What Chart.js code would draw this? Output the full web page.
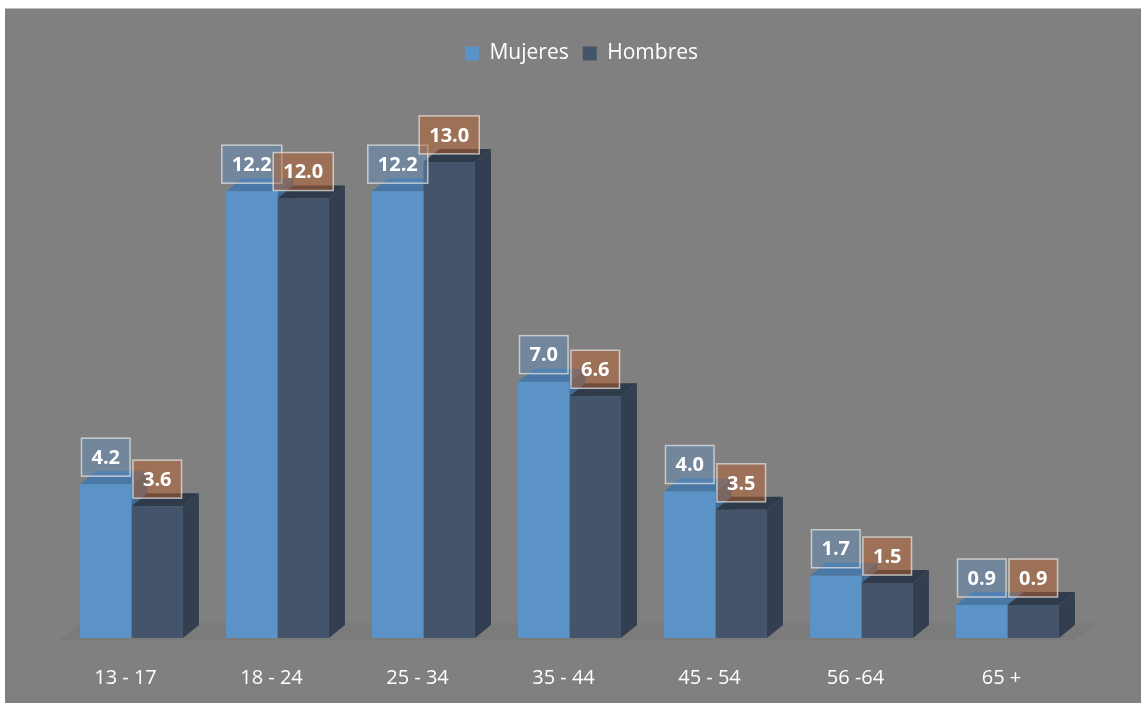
<!DOCTYPE html>
<html>
<head>
<meta charset="utf-8">
<title>Mujeres / Hombres por edad</title>
<script src="https://cdn.jsdelivr.net/npm/chart.js@4.4.1/dist/chart.umd.min.js"></script>
<style>
  html, body { margin: 0; padding: 0; background: #fff; }
  #wrap {
    position: absolute; left: 5px; top: 8px;
    width: 1136px; height: 695px;
    background: #808080;
    border-top: 1px solid #bdbdbd;
    box-sizing: border-box;
    overflow: hidden;
  }
  canvas { display: block; }
</style>
</head>
<body>
<div id="wrap"><canvas id="c" width="1136" height="694"></canvas></div>
<script>
// ── Data ──────────────────────────────────────────────────────────────────────
const categorias = ['13 - 17', '18 - 24', '25 - 34', '35 - 44', '45 - 54', '56 -64', '65 +'];
const mujeres    = [4.2, 12.2, 12.2, 7.0, 4.0, 1.7, 0.9];
const hombres    = [3.6, 12.0, 13.0, 6.6, 3.5, 1.5, 0.9];

// ── Styles ────────────────────────────────────────────────────────────────────
const FONT = "'Open Sans', 'DejaVu Sans', sans-serif";
const DX = 16, DY = 13;   // 3D depth offset
const FACES = [
  { front: '#5b93c6', side: '#3f6a93', top: '#4a78a6', box: 'rgba(95,145,195,0.42)' },
  { front: '#44546a', side: '#333f50', top: '#2f3a4a', box: 'rgba(188,96,44,0.48)' },
];

// ── 3D faces + floor, drawn behind the front faces ────────────────────────────
const depth3d = {
  id: 'depth3d',
  beforeDatasetsDraw(chart) {
    const { ctx, chartArea: a, scales: { y } } = chart;
    const base = y.getPixelForValue(0);
    ctx.save();
    // floor
    ctx.fillStyle = 'rgba(0,0,0,0.035)';
    ctx.beginPath();
    ctx.moveTo(a.left, base + 2);
    ctx.lineTo(a.right - 6, base + 2);
    ctx.lineTo(a.right + DX + 4, base - DY - 2);
    ctx.lineTo(a.left + DX + 6, base - DY - 2);
    ctx.closePath();
    ctx.fill();

    chart.data.datasets.forEach((ds, di) => {
      const meta = chart.getDatasetMeta(di);
      const f = FACES[di];
      meta.data.forEach(bar => {
        const { x, y: top, base: b, width } = bar.getProps(['x', 'y', 'base', 'width'], true);
        const l = x - width / 2, r = x + width / 2;
        // side
        ctx.fillStyle = f.side;
        ctx.beginPath();
        ctx.moveTo(r, b); ctx.lineTo(r + DX, b - DY);
        ctx.lineTo(r + DX, top - DY); ctx.lineTo(r, top);
        ctx.closePath(); ctx.fill();
        // top
        ctx.fillStyle = f.top;
        ctx.beginPath();
        ctx.moveTo(l, top); ctx.lineTo(r, top);
        ctx.lineTo(r + DX, top - DY); ctx.lineTo(l + DX, top - DY);
        ctx.closePath(); ctx.fill();
      });
    });
    ctx.restore();
  }
};

// ── Value labels in translucent boxes ─────────────────────────────────────────
const boxLabels = {
  id: 'boxLabels',
  afterDatasetsDraw(chart) {
    const { ctx } = chart;
    ctx.save();
    ctx.font = `bold 20px ${FONT}`;
    ctx.textAlign = 'center';
    ctx.textBaseline = 'middle';
    chart.data.datasets.forEach((ds, di) => {
      const meta = chart.getDatasetMeta(di);
      meta.data.forEach((bar, i) => {
        const txt = ds.data[i].toFixed(1);
        const w = ctx.measureText(txt).width + 20, h = 38;
        const cx = bar.x, cy = bar.y - 27;
        ctx.fillStyle = FACES[di].box;
        ctx.fillRect(cx - w / 2, cy - h / 2, w, h);
        ctx.strokeStyle = 'rgba(225,225,225,0.75)';
        ctx.lineWidth = 1.5;
        ctx.strokeRect(cx - w / 2, cy - h / 2, w, h);
        ctx.fillStyle = '#ffffff';
        ctx.fillText(txt, cx, cy + 1);
      });
    });
    ctx.restore();
  }
};

// legend sits a little right of the plot centre in the original
const legendNudge = {
  id: 'legendNudge',
  afterLayout(chart) {
    if (chart.legend) { chart.legend.left += 12; chart.legend.right += 12; }
  }
};

new Chart(document.getElementById('c'), {
  type: 'bar',
  data: {
    labels: categorias,
    datasets: [
      { label: 'Mujeres', data: mujeres, backgroundColor: FACES[0].front },
      { label: 'Hombres', data: hombres, backgroundColor: FACES[1].front },
    ]
  },
  options: {
    responsive: false, animation: false,
    categoryPercentage: 0.705, barPercentage: 1,
    layout: { padding: { left: 53.5, right: 60.5, top: 20, bottom: -7 } },
    plugins: {
      legend: {
        position: 'top',
        labels: {
          color: '#ffffff', font: { family: FONT, size: 21 },
          boxWidth: 14, boxHeight: 14, padding: 14,
        }
      },
      tooltip: { enabled: false },
    },
    scales: {
      x: {
        grid: { display: false }, border: { display: false },
        ticks: { color: '#ffffff', font: { family: FONT, size: 20 }, padding: 20, labelOffset: -6 }
      },
      y: { display: false, min: 0, max: 15.4 }
    }
  },
  plugins: [depth3d, boxLabels, legendNudge]
});
</script>
</body>
</html>
